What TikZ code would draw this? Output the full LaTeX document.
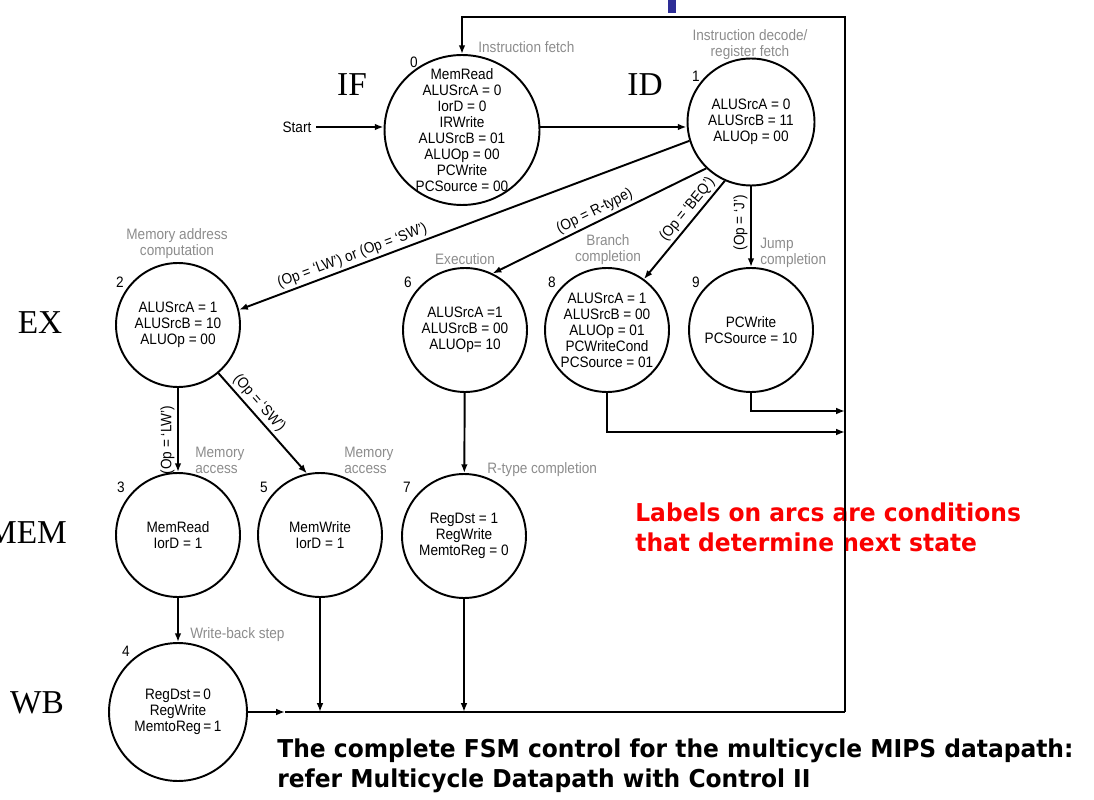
\documentclass[tikz,border=0pt]{standalone}
\usepackage{fontspec}
\setmainfont{Liberation Sans}[FakeStretch=0.9]
\newfontfamily\stagefont{Liberation Serif}
\newfontfamily\notefont{DejaVu Sans}[FakeStretch=0.95]
\usetikzlibrary{arrows.meta,shapes.geometric}
\definecolor{descgray}{RGB}{140,140,140}
\definecolor{notered}{RGB}{250,0,0}
\definecolor{barblue}{RGB}{45,45,150}

\begin{document}
\begin{tikzpicture}[x=0.02cm, y=0.02cm,
  state/.style={circle, draw, line width=1.1pt, minimum size=2.48cm, inner sep=0pt, align=center, font=\fontsize{8.6}{9.1}\selectfont},
  desc/.style={text=descgray, font=\fontsize{8.6}{9.1}\selectfont, inner sep=0pt, align=center},
  num/.style={font=\fontsize{8.6}{9.1}\selectfont, inner sep=0pt},
  cond/.style={font=\fontsize{8.6}{9.1}\selectfont, sloped, above, inner sep=1.5pt},
  vcond/.style={font=\fontsize{8.6}{9.1}\selectfont, rotate=90, anchor=south, inner sep=1.5pt},
  stage/.style={font=\stagefont\fontsize{19}{19}\selectfont, inner sep=0pt},
  note/.style={font=\notefont\bfseries\fontsize{14}{17.5}\selectfont, inner sep=0pt, align=left, anchor=north west},
  arr/.style={-{Latex[length=5pt,width=3.8pt]}, line width=1.1pt},
  wire/.style={line width=1.1pt}]

	\useasboundingbox (0,0) rectangle (1094,-800);
	\fill[barblue] (668,0) rectangle (676,-13);

	\node[note, text=notered] (hint) at (635,-502) {Labels on arcs are conditions\\that determine next state};
	\node[note] (caption) at (277,-738) {The complete FSM control for the multicycle MIPS datapath:\\refer Multicycle Datapath with Control II};

	\node[stage] (if) at (352,-85) {IF};
	\node[stage] (id) at (645,-85) {ID};
	\node[stage] (ex) at (40,-323) {EX};
	\node[stage] (mem) at (27,-533) {MEM};
	\node[stage] (wb) at (37,-703) {WB};

	\node[state, shape=ellipse, minimum width=3.1cm, minimum height=3.0cm, inner xsep=0pt, inner ysep=-10pt] (s0) at (462,-130) {MemRead\\ALUSrcA = 0\\IorD = 0\\IRWrite\\ALUSrcB = 01\\ALUOp = 00\\PCWrite\\PCSource = 00};
	\node[state, minimum size=2.54cm] (s1) at (751,-122) {ALUSrcA = 0\\ALUSrcB = 11\\ALUOp = 00};
	\node[state] (s2) at (178,-325) {ALUSrcA = 1\\ALUSrcB = 10\\ALUOp = 00};
	\node[state] (s6) at (465,-330) {ALUSrcA =1\\ALUSrcB = 00\\ALUOp= 10};
	\node[state] (s8) at (607,-330) {ALUSrcA = 1\\ALUSrcB = 00\\ALUOp = 01\\PCWriteCond\\PCSource = 01};
	\node[state] (s9) at (751,-330) {PCWrite\\PCSource = 10};
	\node[state] (s3) at (178,-535) {MemRead\\IorD = 1};
	\node[state] (s5) at (320,-535) {MemWrite\\IorD = 1};
	\node[state] (s7) at (464,-536) {RegDst = 1\\RegWrite\\MemtoReg = 0};
	\node[state, minimum size=2.76cm] (s4) at (178,-712) {RegDst\,=\,0\\RegWrite\\MemtoReg\,=\,1};

	\node[num] (n0) at (414,-62) {0};
	\node[num] (n1) at (696,-76) {1};
	\node[num] (n2) at (120,-282) {2};
	\node[num] (n6) at (408,-282) {6};
	\node[num] (n8) at (552,-282) {8};
	\node[num] (n9) at (696,-282) {9};
	\node[num] (n3) at (121,-487) {3};
	\node[num] (n5) at (264,-487) {5};
	\node[num] (n7) at (407,-487) {7};
	\node[num] (n4) at (126,-651) {4};

	\node[desc, anchor=west] (d0) at (478,-47) {Instruction fetch};
	\node[desc] (d1) at (750,-45) {Instruction decode/\\register fetch};
	\node[desc] (d2) at (177,-244) {Memory address\\computation};
	\node[desc] (d6) at (465,-259) {Execution};
	\node[desc] (d8) at (608,-250) {Branch\\completion};
	\node[desc, anchor=west, align=left] (d9) at (760,-253) {Jump\\completion};
	\node[desc, anchor=west, align=left] (d3) at (195,-460) {Memory\\access};
	\node[desc, anchor=west, align=left] (d5) at (344,-460) {Memory\\access};
	\node[desc, anchor=west] (d7) at (487,-470) {R-type completion};
	\node[desc, anchor=west] (d4) at (190,-635) {Write-back step};

	\node[num, inner sep=2.5pt] (start) at (297,-127) {Start};

	\coordinate (tr) at (845,-17);
	\coordinate (br) at (845,-712);
	\coordinate (wbmid) at (285,-712);
	\coordinate (in9) at (845,-411);
	\coordinate (in8) at (845,-432);

	\draw[arr] (start) -- (start -| s0.west);
	\draw[arr] (s0.east |- start) -- (start -| s1.west);
	\draw[arr] (s1.197) -- (s2.14) node[cond, pos=0.74] {(Op = `LW') or (Op = `SW')};
	\draw[arr] (s1.226) -- (s6.64) node[cond, pos=0.5] {(Op = R-type)};
	\draw[arr] (s1.246) -- (s8.54) node[cond, pos=0.36] {(Op = `BEQ')};
	\draw[arr] (s1) -- (s9) node[vcond, pos=0.45] {(Op = `J')};
	\draw[arr] (s2) -- (s3) node[vcond, pos=0.62] {(Op = `LW')};
	\draw[arr] (s2.310) -- (s5.102) node[cond, pos=0.37] {(Op = `SW')};
	\draw[arr] (s3) -- (s4);
	\draw[arr] (s6) -- (s7);

	\draw[arr] (s9) |- (in9);
	\draw[arr] (s8) |- (in8);
	\draw[arr] (s5) -- (s5 |- br);
	\draw[arr] (s7) -- (s7 |- br);
	\draw[arr] (s4.east) -- (wbmid);
	\draw[wire] (wbmid) -- (br);
	\draw[arr] (br) -- (tr) -| (s0.north);

\end{tikzpicture}
\end{document}
